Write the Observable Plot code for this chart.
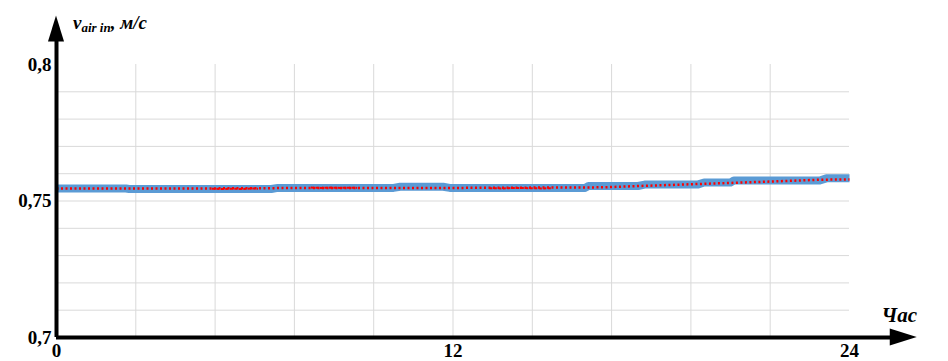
<!DOCTYPE html>
<html>
<head>
<meta charset="utf-8">
<script src="https://cdn.jsdelivr.net/npm/d3@7"></script>
<script src="https://cdn.jsdelivr.net/npm/@observablehq/plot@0.6"></script>
<style>
  html, body { margin: 0; padding: 0; background: #fff; }
  #chart svg { display: block; }
</style>
</head>
<body>
<div id="chart"></div>
<script>
// Measured air speed (blue thick line)
const measHours = [0, 2.1, 2.2, 6.5, 6.7, 10.2, 10.4, 11.7, 11.9, 16.0, 16.1, 17.6, 17.8, 19.4, 19.6, 20.4, 20.5, 23.1, 23.3, 24];
const measValues = [0.7546, 0.7546, 0.7544, 0.7544, 0.7548, 0.7548, 0.7552, 0.7552, 0.7548, 0.7548, 0.7555, 0.7555, 0.7560, 0.7560, 0.7568, 0.7568, 0.7575, 0.7575, 0.7583, 0.7583];

// Red dotted series
const redHours = [0, 4.4, 8.3, 12.2, 16.5, 17.4, 18.9, 20.1, 21.3, 23.1, 24];
const redValues = [0.7546, 0.7546, 0.7548, 0.7548, 0.7550, 0.7554, 0.7560, 0.7565, 0.7570, 0.7578, 0.7579];

// Red noisy fragments
const noiseSegments = [
  {hours: [4.7, 5.0, 5.3, 5.6, 5.9, 6.1], values: [0.7545, 0.7544, 0.7545, 0.7544, 0.7546, 0.7545]},
  {hours: [7.7, 8.0, 8.3, 8.6, 8.9, 9.1], values: [0.7549, 0.7548, 0.7549, 0.7548, 0.7549, 0.7548]},
  {hours: [13.1, 13.5, 13.9, 14.3, 14.7, 15.0], values: [0.7547, 0.7546, 0.7548, 0.7547, 0.7546, 0.7547]}
];

const xTicks = [0, 12, 24];
const yTicks = [0.7, 0.75, 0.8];
const xGrid = [2.4, 4.8, 7.2, 9.6, 12, 14.4, 16.8, 19.2, 21.6];
const yGrid = [0.71, 0.72, 0.73, 0.74, 0.75, 0.76, 0.77, 0.78, 0.79];

const measured = measHours.map((h, i) => ({h, v: measValues[i]}));
const red = redHours.map((h, i) => ({h, v: redValues[i]}));
const noise = noiseSegments.flatMap((s, k) => s.hours.map((h, i) => ({h, v: s.values[i], k})));

const font = "Liberation Serif, Times New Roman, serif";

const plot = Plot.plot({
  width: 948,
  height: 361,
  marginLeft: 56,
  marginRight: 99,
  marginTop: 64,
  marginBottom: 24,
  style: {fontFamily: font, background: "#fff", overflow: "visible"},
  x: {domain: [0, 24], label: null},
  y: {domain: [0.7, 0.8], label: null},
  marks: [
    Plot.ruleX(xGrid, {y1: 0.7, y2: 0.8, stroke: "#d9d9d9", strokeWidth: 1}),
    Plot.ruleY(yGrid, {x1: 0, x2: 24, stroke: "#d9d9d9", strokeWidth: 1}),
    Plot.line(measured, {x: "h", y: "v", stroke: "#5b9bd5", strokeWidth: 8, strokeLinecap: "butt"}),
    Plot.line(noise, {x: "h", y: "v", z: "k", stroke: "#ff0000", strokeWidth: 2, strokeLinecap: "butt", strokeDasharray: "3,1.5"}),
    Plot.line(red, {x: "h", y: "v", stroke: "#ff0000", strokeWidth: 2.5, strokeLinecap: "butt", strokeDasharray: "2,2.5"}),
    Plot.axisY(yTicks, {label: null, tickSize: 0, tickPadding: 5, fontSize: 19, fontWeight: "bold", fill: "#000",
      tickFormat: d => String(d).replace(".", ",")}),
    Plot.axisX(xTicks, {label: null, tickSize: 0, tickPadding: 6, fontSize: 19, fontWeight: "bold", fill: "#000",
      tickFormat: d => String(d)}),
    Plot.ruleX([0], {y1: 0.7, y2: 0.8086, stroke: "#000", strokeWidth: 4}),
    Plot.ruleY([0.7], {x1: 0, x2: 25.3, stroke: "#000", strokeWidth: 4})
  ]
});

const svg = d3.select(plot);
const sx = plot.scale("x"), sy = plot.scale("y");
const x0 = sx.apply(0), y0 = sy.apply(0.7);
const yTop = sy.apply(0.8178);
const xEnd = sx.apply(26.05);
// y arrowhead
svg.append("path")
  .attr("d", `M${x0},${yTop} L${x0 - 8},${yTop + 26} L${x0 + 8},${yTop + 26} Z`)
  .attr("fill", "#000");
// x arrowhead
svg.append("path")
  .attr("d", `M${xEnd},${y0} L${xEnd - 27},${y0 - 8.5} L${xEnd - 27},${y0 + 8.5} Z`)
  .attr("fill", "#000");

// Axis titles
const t = svg.append("text")
  .attr("x", 73).attr("y", 29)
  .attr("text-anchor", "start")
  .attr("font-family", font).attr("font-weight", "bold").attr("font-style", "italic")
  .attr("font-size", 19).attr("fill", "#000");
t.append("tspan").text("v");
t.append("tspan").attr("font-size", 13).attr("dy", 3).text("air in");
t.append("tspan").attr("font-size", 19).attr("dy", -3).text(", м/с");

svg.append("text")
  .attr("x", 917).attr("y", 322).attr("text-anchor", "end")
  .attr("font-family", font).attr("font-weight", "bold").attr("font-style", "italic")
  .attr("font-size", 21).attr("fill", "#000")
  .text("Час");

document.getElementById("chart").appendChild(plot);
</script>
</body>
</html>
